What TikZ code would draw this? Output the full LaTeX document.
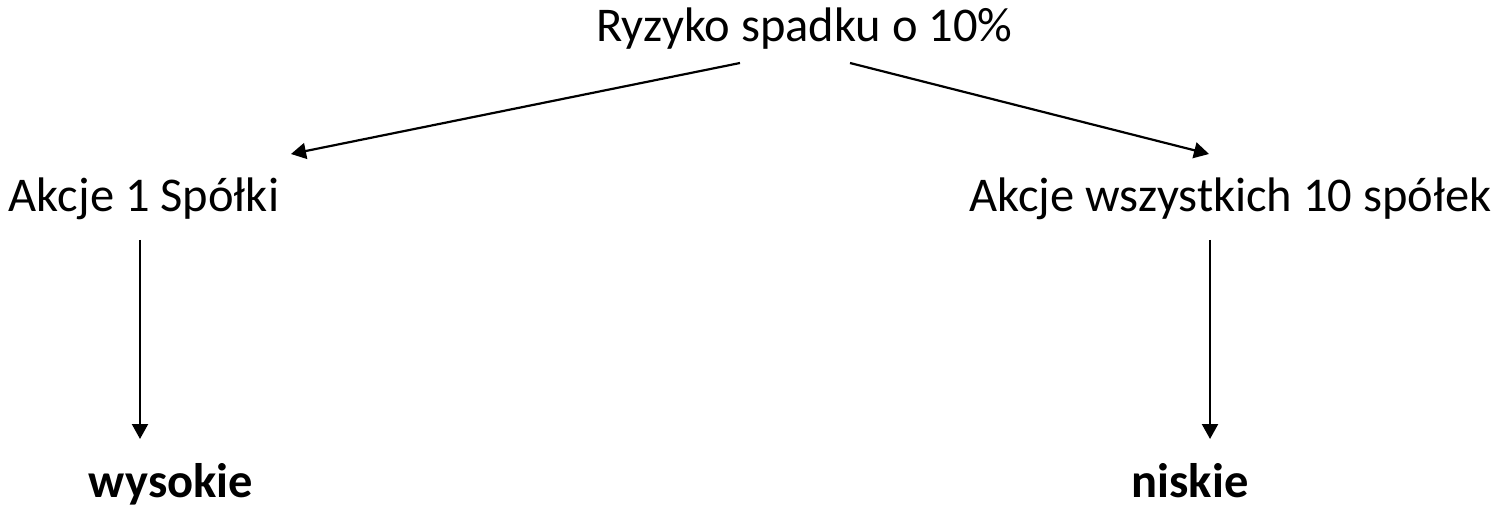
\documentclass[tikz,border=0pt]{standalone}
\usepackage{fontspec}
\setmainfont{Carlito}
\usetikzlibrary{arrows.meta}
\begin{document}
\begin{tikzpicture}[x=1pt,y=-1pt,
  lbl/.style={inner sep=0pt,anchor=base,font=\fontsize{48.5}{56}\selectfont},
  res/.style={lbl,font=\fontsize{48.5}{56}\selectfont\bfseries},
  arr/.style={line width=2.2pt,-{Triangle[length=15pt,width=16pt]}}]
\useasboundingbox (0,0) rectangle (1498,510);
\node[lbl] (top) at (804.5,42) {Ryzyko spadku o 10\%};
\node[lbl] (left) at (144,212) {Akcje 1 Spółki};
\node[lbl] (right) at (1230.5,212) {Akcje wszystkich 10 spółek};
\node[res] (high) at (171,497) {wysokie};
\node[res] (low) at (1190,497) {niskie};
\coordinate (tl) at (740,63);
\coordinate (tr) at (850,63);
\coordinate (la) at (291,154);
\coordinate (ra) at (1209,154);
\coordinate (ls) at (140,240);
\coordinate (le) at (140,439);
\coordinate (rs) at (1210,240);
\coordinate (re) at (1210,439);
\draw[arr] (tl) -- (la);
\draw[arr] (tr) -- (ra);
\draw[arr] (ls) -- (le);
\draw[arr] (rs) -- (re);
\end{tikzpicture}
\end{document}
